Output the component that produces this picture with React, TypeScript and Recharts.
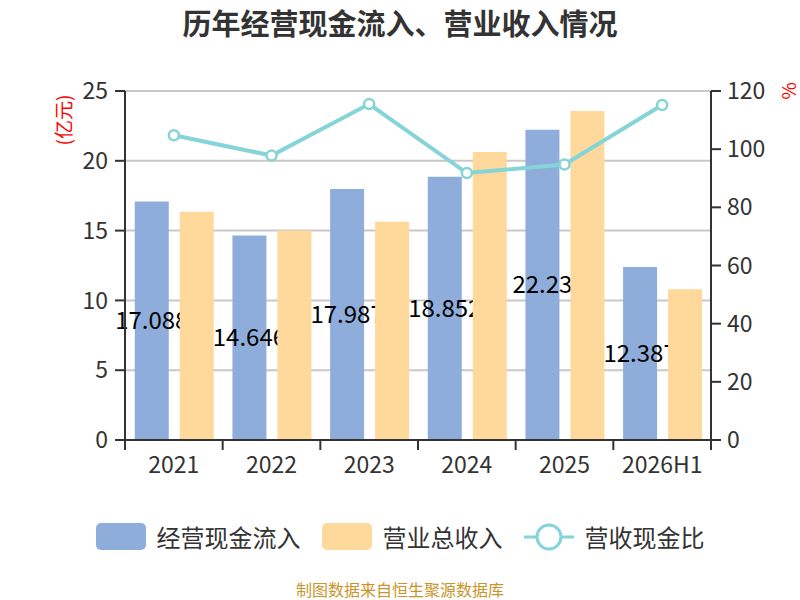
import React from "react";
import {
  ComposedChart,
  Bar,
  Line,
  XAxis,
  YAxis,
  CartesianGrid,
  Legend,
  LabelList,
} from "recharts";

// 数据：单位亿元 / %
const years = ["2021", "2022", "2023", "2024", "2025", "2026H1"];
const cashInflow = [17.088, 14.646, 17.987, 18.852, 22.23, 12.387];
const revenue = [16.35, 15.0, 15.64, 20.63, 23.57, 10.8];
const cashRatio = [104.8, 97.8, 115.5, 91.8, 94.7, 115.2];

const leftTicks = [0, 5, 10, 15, 20, 25];
const rightTicks = [0, 20, 40, 60, 80, 100, 120];

const BLUE = "#8eaddb";
const ORANGE = "#ffd99b";
const TEAL = "#85d4d7";
const AXIS = "#333";
const FONT = "'Noto Sans CJK SC', 'Noto Sans', sans-serif";

// 绘图区边界（只用于画类目分界刻度）
const PLOT_LEFT = 125;
const PLOT_RIGHT = 711;
const PLOT_BOTTOM = 440;
const BAND = (PLOT_RIGHT - PLOT_LEFT) / years.length;

const data = years.map((y, i) => ({
  year: y,
  inflow: cashInflow[i],
  revenue: revenue[i],
  ratio: cashRatio[i],
}));

// x 轴刻度线画在类目边界上，文字居中
function XTick(props: any) {
  const { x, index, payload } = props;
  const last = index === years.length - 1;
  return (
    <g>
      <line
        x1={x - BAND / 2}
        x2={x - BAND / 2}
        y1={PLOT_BOTTOM}
        y2={PLOT_BOTTOM + 10}
        stroke={AXIS}
        strokeWidth={2}
      />
      {last && (
        <line
          x1={x + BAND / 2}
          x2={x + BAND / 2}
          y1={PLOT_BOTTOM}
          y2={PLOT_BOTTOM + 10}
          stroke={AXIS}
          strokeWidth={2}
        />
      )}
      <text
        x={x}
        y={PLOT_BOTTOM + 25}
        dy="0.35em"
        textAnchor="middle"
        fill={AXIS}
        fontSize={23}
        fontFamily={FONT}
      >
        {payload.value}
      </text>
    </g>
  );
}

function LegendBox() {
  const item = { display: "flex", alignItems: "center", marginRight: 21 } as const;
  const text = { fontSize: 24, color: "#333", marginLeft: 11 } as const;
  return (
    <div
      style={{
        display: "flex",
        justifyContent: "center",
        alignItems: "center",
        fontFamily: FONT,
      }}
    >
      <div style={item}>
        <div style={{ width: 50, height: 27, borderRadius: 5, background: BLUE }} />
        <span style={text}>经营现金流入</span>
      </div>
      <div style={item}>
        <div style={{ width: 50, height: 27, borderRadius: 5, background: ORANGE }} />
        <span style={text}>营业总收入</span>
      </div>
      <div style={{ ...item, marginRight: 0 }}>
        <svg width={50} height={30}>
          <line x1={0} x2={50} y1={15} y2={15} stroke={TEAL} strokeWidth={3} />
          <circle cx={25} cy={15} r={12} fill="#fff" stroke={TEAL} strokeWidth={3} />
        </svg>
        <span style={text}>营收现金比</span>
      </div>
    </div>
  );
}

export default function App() {
  return (
    <div
      style={{
        position: "absolute",
        left: 0,
        top: 0,
        width: 800,
        height: 600,
        background: "#fff",
        fontFamily: FONT,
      }}
    >
      <div
        style={{
          position: "absolute",
          top: 4,
          width: 800,
          textAlign: "center",
          fontSize: 29,
          lineHeight: "36px",
          fontWeight: "bold",
          color: "#333",
        }}
      >
        历年经营现金流入、营业收入情况
      </div>
      <div
        style={{
          position: "absolute",
          left: 62,
          top: 120,
          transform: "translate(-50%, -50%) rotate(-90deg)",
          color: "red",
          fontSize: 19,
          whiteSpace: "nowrap",
        }}
      >
        (亿元)
      </div>
      <div
        style={{
          position: "absolute",
          left: 787,
          top: 91,
          transform: "translate(-50%, -50%) rotate(-90deg)",
          color: "red",
          fontSize: 19,
        }}
      >
        %
      </div>
      <ComposedChart
        width={800}
        height={600}
        data={data}
        margin={{ top: 91, right: 0, bottom: 120, left: 0 }}
        barCategoryGap="10%"
        barGap={11}
      >
        <CartesianGrid vertical={false} stroke="#c8c8c8" strokeWidth={2} yAxisId="left" />
        <XAxis
          dataKey="year"
          height={40}
          axisLine={{ stroke: AXIS, strokeWidth: 2 }}
          tickLine={false}
          tick={<XTick />}
          interval={0}
        />
        <YAxis
          yAxisId="left"
          width={125}
          domain={[0, 25]}
          ticks={leftTicks}
          axisLine={{ stroke: AXIS, strokeWidth: 2 }}
          tickLine={{ stroke: AXIS, strokeWidth: 2 }}
          tickSize={10}
          tickMargin={7}
          tick={{ fill: AXIS, fontSize: 23, fontFamily: FONT }}
        />
        <YAxis
          yAxisId="right"
          orientation="right"
          width={89}
          domain={[0, 120]}
          ticks={rightTicks}
          axisLine={{ stroke: AXIS, strokeWidth: 2 }}
          tickLine={{ stroke: AXIS, strokeWidth: 2 }}
          tickSize={10}
          tickMargin={6}
          tick={{ fill: AXIS, fontSize: 23, fontFamily: FONT }}
        />
        <Legend
          layout="horizontal"
          verticalAlign="middle"
          align="center"
          content={<LegendBox />}
          wrapperStyle={{ top: 519, left: 0, width: 800 }}
        />
        <Bar
          yAxisId="left"
          dataKey="inflow"
          name="经营现金流入"
          fill={BLUE}
          zIndex={300}
          isAnimationActive={false}
        >
          <LabelList
            dataKey="inflow"
            position="center"
            fill="#000"
            fontSize={24}
            fontFamily={FONT}
            zIndex={350}
          />
        </Bar>
        <Bar
          yAxisId="left"
          dataKey="revenue"
          name="营业总收入"
          fill={ORANGE}
          zIndex={400}
          isAnimationActive={false}
        />
        <Line
          yAxisId="right"
          dataKey="ratio"
          name="营收现金比"
          stroke={TEAL}
          strokeWidth={4}
          dot={{ r: 5, fill: "#fff", stroke: TEAL, strokeWidth: 2.5 }}
          activeDot={false}
          zIndex={500}
          isAnimationActive={false}
        />
      </ComposedChart>
      <div
        style={{
          position: "absolute",
          top: 580,
          width: 800,
          textAlign: "center",
          fontSize: 16,
          lineHeight: "18px",
          color: "#c8952a",
        }}
      >
        制图数据来自恒生聚源数据库
      </div>
    </div>
  );
}
